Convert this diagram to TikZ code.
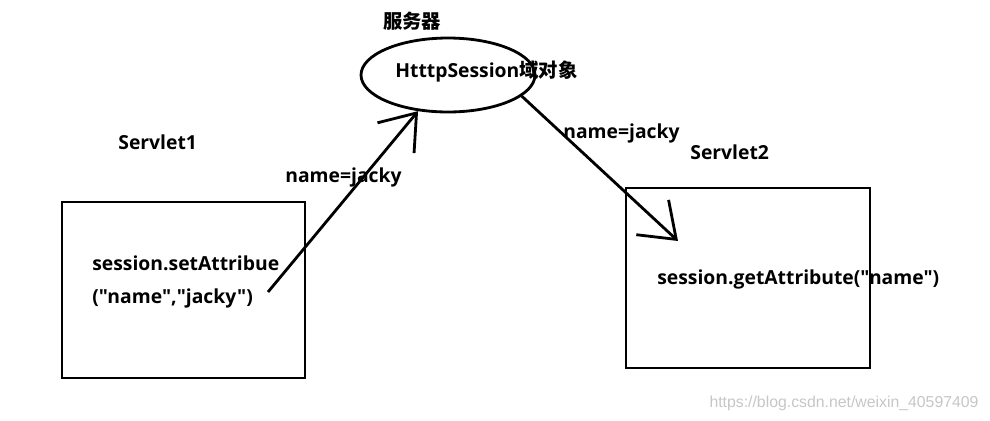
\documentclass[tikz,border=0pt]{standalone}
\usepackage{fontspec}
\setmainfont{Open Sans}
\newfontfamily\labelfont{Open Sans}
\newfontfamily\cjk{Noto Sans CJK SC}
\newfontfamily\urlfont{Liberation Sans}
\usepackage{tikz}
\usetikzlibrary{arrows.meta,positioning,shapes.geometric}

\begin{document}
\begin{tikzpicture}[x=0.02cm,y=-0.02cm,
  box/.style={draw, line width=1.6pt, inner sep=0pt},
  lbl/.style={font=\labelfont\bfseries\fontsize{11}{13}\selectfont, anchor=west, inner sep=0pt},
  flow/.style={line width=1.6pt, -{Straight Barb[length=6.5mm,width=9.5mm]}}]

\useasboundingbox (0,0) rectangle (990,420);

% server side
\node[draw, ellipse, line width=1.6pt, minimum width=3.48cm, minimum height=1.48cm] (session) at (448,75) {};
\node[lbl, anchor=center] (server) at (412,21) {\cjk 服务器};
\node[lbl] (sessiontext) at (395,72) {HtttpSession{\cjk 域对象}};

% Servlet1
\node[lbl] (servlet1) at (118,142) {Servlet1};
\node[box, minimum width=4.86cm, minimum height=3.52cm] (box1) at (183.5,290) {};
\node[lbl] (setline1) at (92,263) {session.setAttribue};
\node[lbl] (setline2) at (92,298) {("name","jacky")};

% Servlet2
\node[lbl] (servlet2) at (690,152) {Servlet2};
\node[box, minimum width=4.88cm, minimum height=3.6cm] (box2) at (748,278) {};
\node[lbl] (getline) at (657,279) {session.getAttribute("name")};

% name=jacky
\node[lbl] (sendlabel) at (285,177) {name=jacky};
\node[lbl] (getlabel) at (563,133) {name=jacky};

\coordinate (setend) at (268,292);
\coordinate (getend) at (678,241);
\draw[flow] (setend) -- (session);
\draw[flow] (session.-16) -- (getend);

\node[font=\urlfont\fontsize{9}{11}\selectfont, text=gray!45] (mark) at (844,403) {https://blog.csdn.net/weixin\_40597409};
\end{tikzpicture}
\end{document}
